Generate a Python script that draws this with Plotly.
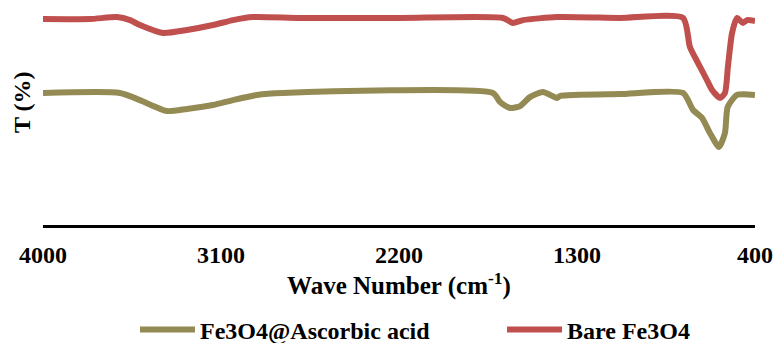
import plotly.graph_objects as go

# Wave numbers (cm-1) and transmittance (arbitrary %)
wn_bare = [4000, 3762, 3626, 3560, 3510, 3393, 3272, 3140, 3039, 2938, 2701, 2195,
           1674, 1624, 1573, 1401, 1083, 764, 729, 688, 643, 617, 577, 552, 537,
           516, 491, 461, 440, 400]
t_bare = [95.8, 95.8, 96.7, 95.3, 93.0, 89.3, 90.7, 93.0, 95.3, 96.7, 96.3, 96.3,
          96.3, 94.0, 95.3, 96.7, 96.3, 96.3, 82.8, 75.3, 67.4, 62.8, 59.1, 61.4, 73.5,
          89.3, 96.3, 94.0, 95.3, 94.9]

wn_aa = [4000, 3611, 3510, 3373, 3272, 3140, 3039, 2918, 2787, 1725, 1689, 1639,
         1588, 1538, 1472, 1401, 1386, 1083, 764, 713, 668, 628, 582, 552, 538,
         491, 400]
t_aa = [61.4, 61.4, 58.1, 53.0, 54.0, 55.8, 58.1, 60.5, 61.4, 61.4, 57.2, 54.4,
        55.3, 59.5, 61.9, 59.1, 60.0, 60.9, 61.4, 53.5, 49.8, 42.8, 36.3, 42.8, 54.9,
        60.5, 60.5]

x_ticks = [4000, 3100, 2200, 1300, 400]

FONT = "Liberation Serif"

fig = go.Figure()
fig.add_trace(go.Scatter(x=wn_aa, y=t_aa, mode="lines", name="<b>Fe3O4@Ascorbic acid</b>",
                         legend="legend",
                         line=dict(color="#948A54", width=6, shape="spline", smoothing=0.6)))
fig.add_trace(go.Scatter(x=wn_bare, y=t_bare, mode="lines", name="<b>Bare Fe3O4</b>",
                         legend="legend2",
                         line=dict(color="#C0504D", width=6, shape="spline", smoothing=0.6)))

leg_common = dict(orientation="h", yanchor="middle", y=-0.488, xanchor="left",
                  font=dict(family=FONT, size=24, color="black"), itemwidth=55,
                  bgcolor="rgba(0,0,0,0)", borderwidth=0)

fig.update_layout(
    width=774, height=343,
    margin=dict(l=43, r=19, t=10, b=118, autoexpand=False),
    paper_bgcolor="white", plot_bgcolor="white",
    font=dict(family=FONT, size=24, color="black"),
    showlegend=True,
    legend=dict(x=0.1292, **leg_common),
    legend2=dict(x=0.6447, **leg_common),
    xaxis=dict(range=[4000, 400], tickvals=x_ticks, ticktext=[f"<b>{v}</b>" for v in x_ticks],
               showgrid=False, zeroline=False, showline=True, linecolor="black", linewidth=3,
               ticks="", ticklabelstandoff=6, automargin=False,
               tickfont=dict(family=FONT, size=24, color="black"),
               title=dict(text="<b>Wave Number (cm<sup>-1</sup>)</b>", standoff=6,
                          font=dict(family=FONT, size=25, color="black"))),
    yaxis=dict(range=[0, 100], showgrid=False, zeroline=False, showline=False,
               showticklabels=False, ticks="", automargin=False),
    annotations=[dict(text="<b>T (%)</b>", textangle=-90, xref="paper", yref="paper",
                      x=-0.0295, y=0.572, xanchor="center", yanchor="middle", showarrow=False,
                      font=dict(family=FONT, size=24, color="black"))],
)

fig.write_html("out.html", config={"displayModeBar": False},
               post_script="document.body.style.margin='0';document.body.style.overflow='hidden';")
